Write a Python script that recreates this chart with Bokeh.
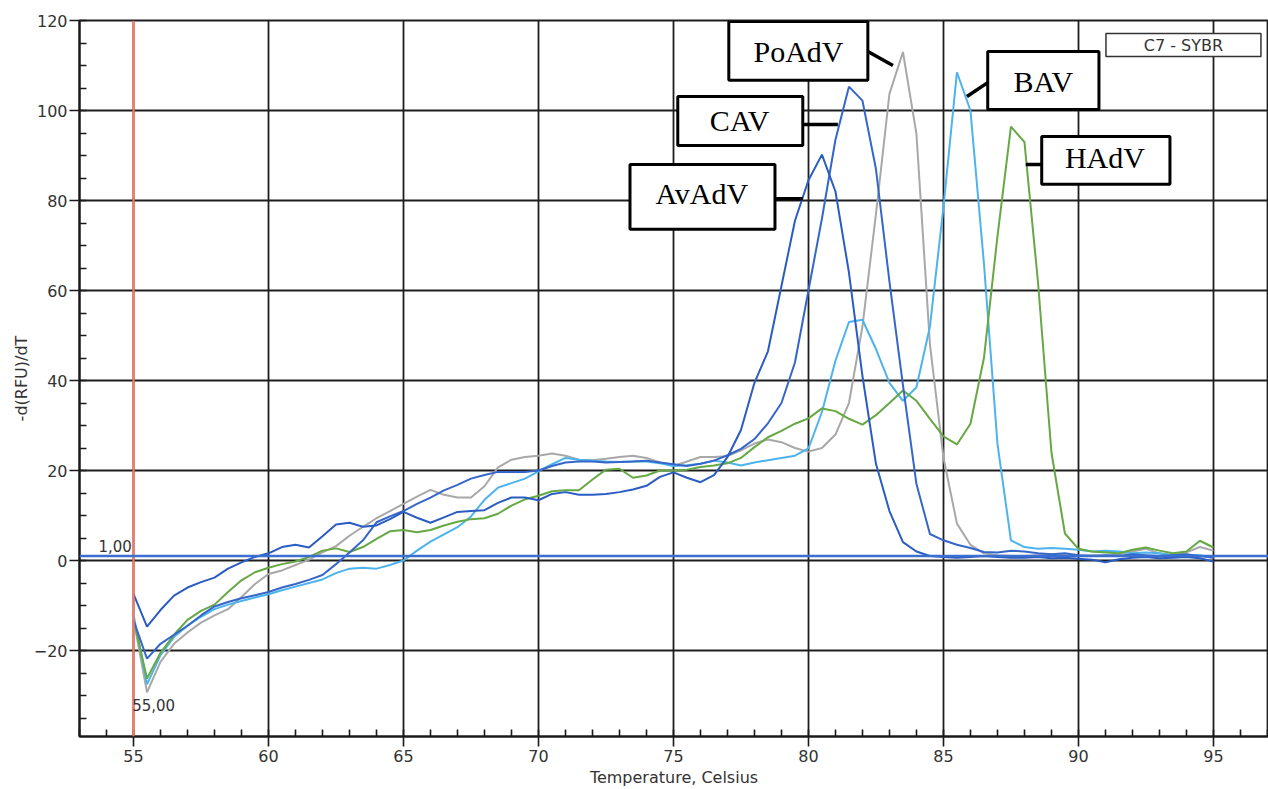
from bokeh.plotting import figure
from bokeh.models import Range1d, SingleIntervalTicker, Span, Label, ColumnDataSource
from bokeh.embed import file_html
from bokeh.resources import INLINE
from bokeh.core.properties import value

# ---------------- data ----------------
temps = [55.0, 55.5, 56.0, 56.5, 57.0, 57.5, 58.0, 58.5, 59.0, 59.5,
         60.0, 60.5, 61.0, 61.5, 62.0, 62.5, 63.0, 63.5, 64.0, 64.5,
         65.0, 65.5, 66.0, 66.5, 67.0, 67.5, 68.0, 68.5, 69.0, 69.5,
         70.0, 70.5, 71.0, 71.5, 72.0, 72.5, 73.0, 73.5, 74.0, 74.5,
         75.0, 75.5, 76.0, 76.5, 77.0, 77.5, 78.0, 78.5, 79.0, 79.5,
         80.0, 80.5, 81.0, 81.5, 82.0, 82.5, 83.0, 83.5, 84.0, 84.5,
         85.0, 85.5, 86.0, 86.5, 87.0, 87.5, 88.0, 88.5, 89.0, 89.5,
         90.0, 90.5, 91.0, 91.5, 92.0, 92.5, 93.0, 93.5, 94.0, 94.5,
         95.0]

avadv = [-7.4, -14.7, -11.0, -7.8, -6.0, -4.8, -3.8, -1.8, -0.4, 0.8,
         1.6, 3.0, 3.5, 2.9, 5.4, 8.0, 8.4, 7.5, 7.8, 9.2,
         10.8, 9.5, 8.4, 9.6, 10.8, 11.0, 11.2, 12.8, 14.0, 14.0,
         13.4, 14.8, 15.2, 14.6, 14.6, 14.8, 15.2, 15.8, 16.6, 18.6,
         19.6, 18.4, 17.4, 19.0, 23.0, 29.0, 39.5, 46.5, 61.0, 75.5,
         84.5, 90.2, 82.0, 64.0, 41.0, 21.5, 11.0, 4.1, 2.0, 1.0,
         0.8, 0.6, 0.8, 1.0, 0.8, 0.6, 0.6, 0.8, 0.5, 0.6,
         0.4, 0.2, -0.4, 0.3, 0.6, 0.8, 0.5, 0.6, 0.8, 0.5,
         -0.2]

cav = [-13.3, -21.8, -18.5, -16.5, -14.5, -12.2, -10.2, -9.2, -8.4, -7.7,
       -7.0, -6.0, -5.2, -4.3, -3.2, -0.8, 1.8, 4.5, 8.5, 9.8,
       11.0, 12.6, 14.0, 15.6, 16.8, 18.2, 19.0, 19.7, 19.7, 19.7,
       20.0, 21.0, 21.8, 22.0, 22.0, 21.8, 21.9, 22.0, 22.2, 21.8,
       21.4, 21.0, 21.5, 22.2, 23.4, 24.8, 27.0, 30.5, 35.0, 44.0,
       60.0, 76.0, 93.5, 105.3, 102.2, 87.0, 62.0, 39.0, 17.0, 5.9,
       4.5, 3.5, 2.8, 1.9, 1.8, 2.2, 2.0, 1.6, 1.4, 1.6,
       1.2, 1.0, 1.2, 1.0, 1.4, 1.2, 1.0, 1.2, 1.4, 1.0,
       0.6]

poadv = [-13.0, -29.3, -22.5, -18.5, -16.0, -13.8, -12.2, -10.8, -8.1, -5.2,
         -3.0, -2.2, -1.0, 0.2, 1.8, 3.2, 5.5, 7.5, 9.4, 11.0,
         12.6, 14.2, 15.7, 14.6, 14.0, 14.0, 16.5, 20.7, 22.4, 23.0,
         23.3, 23.8, 23.3, 22.4, 22.3, 22.6, 23.0, 23.3, 22.8, 21.8,
         21.0, 22.0, 23.0, 23.0, 23.2, 24.5, 26.0, 26.9, 26.3, 25.0,
         24.2, 25.0, 28.0, 35.0, 52.0, 77.0, 103.7, 113.0, 94.8, 48.0,
         22.9, 8.2, 3.5, 1.6, 1.2, 1.0, 1.0, 1.2, 1.4, 1.2,
         1.0, 1.2, 1.0, 1.4, 2.0, 2.6, 1.6, 1.2, 1.8, 3.0,
         2.2]

bav = [-12.0, -27.5, -21.0, -17.0, -14.5, -12.5, -10.8, -9.8, -9.0, -8.2,
       -7.5, -6.6, -5.8, -5.0, -4.2, -2.8, -1.8, -1.6, -1.8, -1.0,
       0.0, 2.2, 4.2, 5.8, 7.4, 9.8, 13.5, 16.2, 17.2, 18.2,
       19.8, 21.4, 22.8, 22.4, 22.2, 22.0, 21.9, 22.0, 22.0, 21.6,
       21.0, 21.2, 21.5, 22.2, 21.8, 21.1, 21.8, 22.3, 22.8, 23.3,
       24.9, 33.0, 44.4, 53.0, 53.5, 47.0, 39.5, 35.5, 38.5, 52.0,
       78.5, 108.5, 100.0, 66.0, 26.0, 4.5, 3.0, 2.6, 2.8, 2.6,
       2.4, 2.0, 2.2, 2.0, 1.6, 1.8, 1.6, 1.2, 1.0, 1.2,
       0.6]

hadv = [-13.0, -26.2, -20.5, -16.5, -13.2, -11.2, -9.8, -7.0, -4.4, -2.6,
        -1.6, -0.8, -0.2, 0.8, 2.2, 2.7, 1.9, 3.0, 4.8, 6.5,
        6.8, 6.3, 6.8, 7.8, 8.6, 9.2, 9.4, 10.4, 12.2, 13.6,
        14.4, 15.4, 15.6, 15.6, 18.0, 20.2, 20.4, 18.4, 18.9, 20.0,
        20.0, 20.2, 20.8, 21.1, 21.6, 22.8, 25.2, 27.4, 28.8, 30.4,
        31.6, 33.8, 33.2, 31.5, 30.2, 32.3, 35.0, 37.8, 35.5, 31.5,
        27.6, 25.8, 30.4, 45.0, 72.0, 96.4, 93.0, 62.0, 24.0, 6.0,
        2.6, 2.0, 1.8, 1.6, 2.4, 2.9, 2.2, 1.6, 2.0, 4.4,
        2.9]

threshold = 1.0
start_temp = 55.0
threshold_text = "1,00"
start_text = "55,00"
legend_text = "C7 - SYBR"

# annotation callouts (data coordinates)
callout_names = ["PoAdV", "CAV", "AvAdV", "BAV", "HAdV"]
box_left = [77.05, 75.16, 73.39, 86.64, 88.64]
box_right = [82.20, 79.79, 78.76, 90.76, 93.39]
box_top = [119.8, 103.1, 88.0, 113.1, 94.2]
box_bottom = [106.7, 92.2, 73.6, 100.2, 83.6]
text_x = [79.63, 77.45, 76.05, 88.70, 90.98]
text_y = [113.2, 97.7, 81.5, 106.5, 89.5]
lead_x0 = [82.20, 79.79, 78.76, 86.64, 88.64]
lead_y0 = [113.1, 96.9, 80.4, 106.2, 88.0]
lead_x1 = [83.13, 81.09, 79.79, 85.87, 88.05]
lead_y1 = [110.0, 96.9, 80.4, 103.1, 88.0]

# ---------------- figure ----------------
p = figure(width=1268, height=789, output_backend="svg", toolbar_location=None,
           x_range=Range1d(53.0, 97.04), y_range=Range1d(-39.1, 120.0),
           min_border_left=79, min_border_right=0, min_border_top=20,
           min_border_bottom=0)
p.background_fill_color = "white"
p.border_fill_color = "white"
p.outline_line_color = "#1e1e1e"
p.outline_line_width = 1.8

grid_col = "#1e1e1e"
p.xaxis.ticker = SingleIntervalTicker(interval=5, num_minor_ticks=5)
p.yaxis.ticker = SingleIntervalTicker(interval=20, num_minor_ticks=4)
for g in (p.xgrid, p.ygrid):
    g.grid_line_color = grid_col
    g.grid_line_width = 1.8

for ax in (p.xaxis, p.yaxis):
    ax.axis_line_color = "#1a1a1a"
    ax.axis_line_width = 2.2
    ax.major_tick_line_color = "#1a1a1a"
    ax.major_tick_line_width = 1.6
    ax.major_tick_out = 10
    ax.major_tick_in = 0
    ax.minor_tick_line_color = "#1a1a1a"
    ax.minor_tick_line_width = 1.6
    ax.minor_tick_in = 7
    ax.minor_tick_out = 0
    ax.major_label_text_font = "DejaVu Sans"
    ax.major_label_text_font_size = "16px"
    ax.major_label_text_color = "#333333"
    ax.axis_label_text_font = "DejaVu Sans"
    ax.axis_label_text_font_size = "16px"
    ax.axis_label_text_font_style = "normal"
    ax.axis_label_text_color = "#333333"

p.xaxis.axis_label = "Temperature, Celsius"
p.xaxis.major_label_standoff = 3
p.xaxis.axis_label_standoff = 3
p.yaxis.axis_label = "-d(RFU)/dT"
p.yaxis.major_label_standoff = 2
p.yaxis.axis_label_standoff = 0

# reference lines
p.add_layout(Span(location=start_temp, dimension="height", line_color="#f77a66", line_width=2.2))
p.add_layout(Span(location=threshold, dimension="width", line_color="#3a6fd1", line_width=2.5))

# series
src = ColumnDataSource(dict(t=temps, avadv=avadv, cav=cav, poadv=poadv, bav=bav, hadv=hadv))
p.line("t", "poadv", source=src, line_color="#a8a8a8", line_width=2)
p.line("t", "bav", source=src, line_color="#4db3ec", line_width=2)
p.line("t", "hadv", source=src, line_color="#66a843", line_width=2)
p.line("t", "cav", source=src, line_color="#3566c9", line_width=2)
p.line("t", "avadv", source=src, line_color="#2b5cc2", line_width=2)

# small texts
p.add_layout(Label(x=53.7, y=1.9, text=threshold_text, text_font="DejaVu Sans",
                   text_font_size="15px", text_color="#333333", text_baseline="bottom"))
p.add_layout(Label(x=start_temp - 0.05, y=-32.2, text=start_text, text_font="DejaVu Sans",
                   text_font_size="15px", text_color="#333333", text_baseline="middle"))

# legend box C7 - SYBR
p.quad(left=[91.02], right=[96.76], top=[117.1], bottom=[112.0],
       fill_color="white", line_color="#333333", line_width=1.5)
p.text(x=[93.89], y=[114.55], text=[legend_text], text_font=value("DejaVu Sans"),
       text_font_size="16px", text_color="#333333", text_align="center",
       text_baseline="middle")

# callouts
p.segment(x0=lead_x0, y0=lead_y0, x1=lead_x1, y1=lead_y1, line_color="black", line_width=3.5)
p.quad(left=box_left, right=box_right, top=box_top, bottom=box_bottom,
       fill_color="white", line_color="black", line_width=3)
p.text(x=text_x, y=text_y, text=callout_names, text_font=value("Liberation Serif"),
       text_font_size="30px", text_color="black", text_align="center",
       text_baseline="alphabetic")

open("out.html", "w").write(file_html(p, INLINE))
